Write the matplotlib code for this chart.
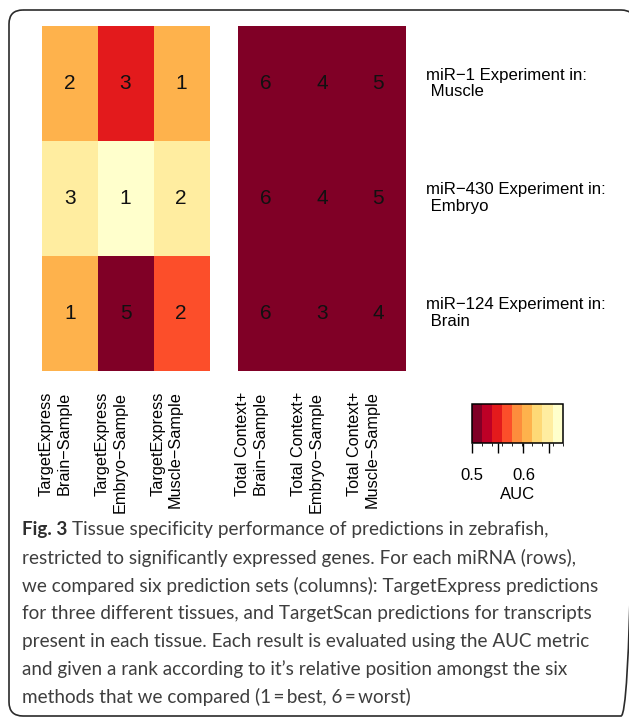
import numpy as np
import matplotlib
matplotlib.use("Agg")
import matplotlib.pyplot as plt
import matplotlib.transforms as mtransforms
from matplotlib.colors import ListedColormap, BoundaryNorm
from matplotlib.colorbar import ColorbarBase
from matplotlib.patches import FancyBboxPatch

# Data
row_labels = ["miR\u22121 Experiment in:\n Muscle",
              "miR\u2212430 Experiment in:\n Embryo",
              "miR\u2212124 Experiment in:\n Brain"]
te_labels = ["TargetExpress\nBrain\u2212Sample",
             "TargetExpress\nEmbryo\u2212Sample",
             "TargetExpress\nMuscle\u2212Sample"]
tc_labels = ["Total Context+\nBrain\u2212Sample",
             "Total Context+\nEmbryo\u2212Sample",
             "Total Context+\nMuscle\u2212Sample"]

# AUC per experiment (rows) and prediction set (columns)
te_auc = np.array([[0.610, 0.550, 0.615],
                   [0.645, 0.676, 0.652],
                   [0.612, 0.510, 0.570]])
tc_auc = np.array([[0.505, 0.515, 0.510],
                   [0.503, 0.512, 0.508],
                   [0.500, 0.516, 0.513]])
te_rank = [[2, 3, 1], [3, 1, 2], [1, 5, 2]]
tc_rank = [[6, 4, 5], [6, 4, 5], [6, 3, 4]]

# YlOrRd, 9 classes, dark = low AUC
palette = ["#800026", "#bd0026", "#e31a1c", "#fc4e2a", "#fd8d3c",
           "#feb24c", "#fed976", "#ffeda0", "#ffffcc"]
auc_min, auc_max = 0.5, 0.676
cbar_ticks = [0.5, 0.55, 0.6, 0.65]
cbar_ticklabels = ["0.5", "", "0.6", ""]

caption_head = "Fig. 3"
caption_lines = [
    "Tissue specificity performance of predictions in zebrafish,",
    "restricted to significantly expressed genes. For each miRNA (rows),",
    "we compared six prediction sets (columns): TargetExpress predictions",
    "for three different tissues, and TargetScan predictions for transcripts",
    "present in each tissue. Each result is evaluated using the AUC metric",
    "and given a rank according to it\u2019s relative position amongst the six",
    "methods that we compared (1\u2009=\u2009best, 6\u2009=\u2009worst)",
]

W, H = 629, 720
fig = plt.figure(figsize=(W / 100, H / 100), dpi=100)
fig.patch.set_facecolor("white")


def px_axes(x0, y0, x1, y1):
    return fig.add_axes([x0 / W, 1 - y1 / H, (x1 - x0) / W, (y1 - y0) / H])


# frame around figure + caption
bg = fig.add_axes([0, 0, 1, 1], zorder=-1)
bg.set_xlim(0, W)
bg.set_ylim(H, 0)
bg.axis("off")
bg.add_patch(FancyBboxPatch((9, 10), 626, 706,
                            boxstyle="round,pad=0,rounding_size=14",
                            fill=False, ec="#2b2b2b", lw=1.2))

cmap = ListedColormap(palette)
edges = np.linspace(auc_min, auc_max, len(palette) + 1)
norm = BoundaryNorm(edges, cmap.N)

sans = ["Liberation Sans", "DejaVu Sans"]

ax_te = px_axes(42, 26, 209, 370.7)
ax_tc = px_axes(238, 26, 406, 370.7)

for ax, vals, ranks, labels in [(ax_te, te_auc, te_rank, te_labels),
                                (ax_tc, tc_auc, tc_rank, tc_labels)]:
    ax.imshow(vals, cmap=cmap, norm=norm, aspect="auto", interpolation="nearest")
    ax.axis("off")
    for i in range(vals.shape[0]):
        for j in range(vals.shape[1]):
            ax.text(j, i, str(ranks[i][j]), ha="center", va="center",
                    fontsize=15, family=sans, color="#111111")
    for j, lab in enumerate(labels):
        ax.annotate(lab, xy=(j, 0), xycoords=(ax.transData, ax.transAxes),
                    xytext=(1.2, -15), textcoords="offset points",
                    rotation=90, ha="right", va="top", multialignment="right",
                    fontsize=11.7, family=sans, linespacing=1.2)

trans = mtransforms.blended_transform_factory(ax_tc.transAxes, ax_tc.transData)
for i, lab in enumerate(row_labels):
    ax_tc.text(1.117, i, lab, transform=trans, ha="left", va="center",
               fontsize=12.1, family=sans, linespacing=1.15)

# colour key
cax = px_axes(471.7, 404.3, 562.7, 442.7)
cb = ColorbarBase(cax, cmap=cmap, norm=norm, orientation="horizontal",
                  boundaries=edges, ticks=cbar_ticks, spacing="proportional")
cb.set_ticklabels(cbar_ticklabels)
cb.outline.set_linewidth(1.1)
cb.outline.set_edgecolor("black")
cax.tick_params(axis="x", direction="out", length=7, width=1, pad=11,
                labelsize=12, labelfontfamily="Liberation Sans")
cax.set_xlabel("AUC", fontsize=12, family=sans, labelpad=3)

# caption
cap_font = ["Lato", "DejaVu Sans"]
cap_size = 13.6
y0, dy = 530, 27.8
head = fig.text(22 / W, 1 - y0 / H, caption_head, fontsize=cap_size,
                family=cap_font, weight="bold", color="#2e2e2e", va="center")
renderer = fig.canvas.get_renderer()
hx = head.get_window_extent(renderer).x1 + 5
for k, line in enumerate(caption_lines):
    x = hx / W if k == 0 else 22 / W
    fig.text(x, 1 - (y0 + k * dy) / H, line, fontsize=cap_size,
             family=cap_font, color="#3e3e3e", va="center")

fig.savefig("out.png", dpi=100)
